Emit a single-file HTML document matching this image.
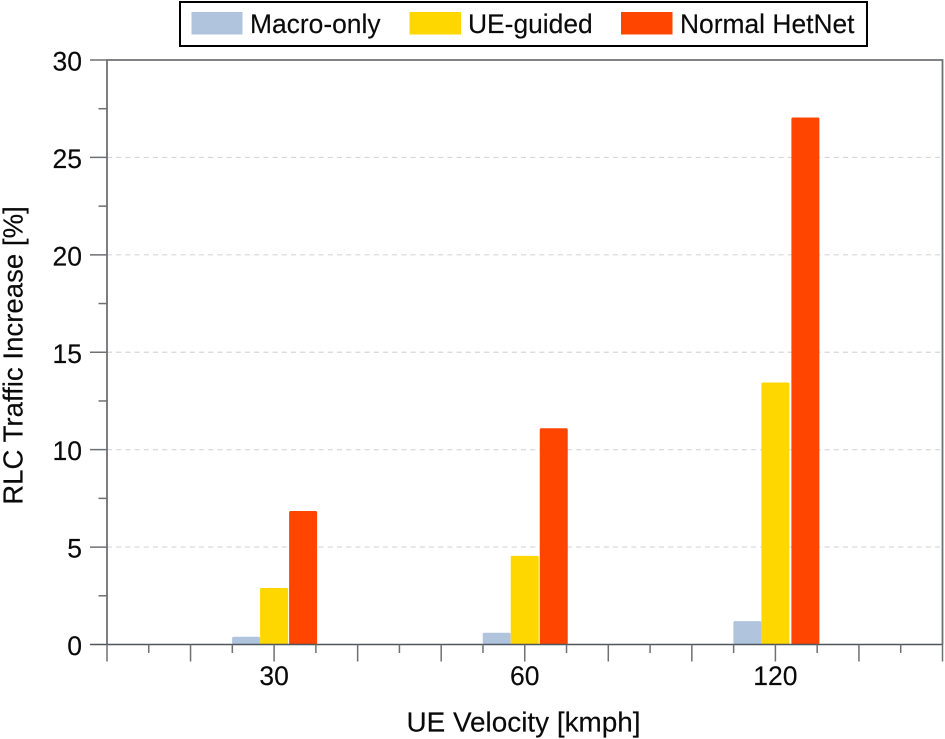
<!DOCTYPE html>
<html lang="en">
<head>
<meta charset="utf-8">
<title>RLC Traffic Increase vs UE Velocity</title>
<style>
html,body{margin:0;padding:0;background:#fff;}
svg{display:block;font-family:"Liberation Sans",Arial,sans-serif;}
text{fill:#0a0a0a;stroke:#0a0a0a;stroke-width:0.15px;}
</style>
</head>
<body>
<svg id="chart" xmlns="http://www.w3.org/2000/svg" width="945" height="739" viewBox="0 0 945 739">
  <rect x="0" y="0" width="945" height="739" fill="#fff"/>
  <g id="grid"></g>
  <g id="bars"></g>
  <g id="axes"></g>
  <text x="523.5" y="731.5" font-size="27.9" text-anchor="middle">UE Velocity [kmph]</text>
  <text transform="translate(22.5,355.5) rotate(-90)" font-size="27.6" text-anchor="middle">RLC Traffic Increase [%]</text>
  <g>
    <rect x="180" y="2" width="687" height="44" fill="#fff" stroke="#000" stroke-width="2"/>
    <rect x="191.5" y="12" width="51" height="22.5" fill="#b0c4de"/>
    <text x="250" y="33" font-size="26.4">Macro-only</text>
    <rect x="409.5" y="12" width="51.5" height="22.5" fill="#ffd700"/>
    <text x="468" y="33" font-size="26.4">UE-guided</text>
    <rect x="621" y="12" width="51.5" height="22.5" fill="#ff4500"/>
    <text x="680" y="33" font-size="26.4">Normal HetNet</text>
  </g>
</svg>
<script>
const categories = ['30', '60', '120'];
const macroOnly = [0.4, 0.6, 1.2];
const ueGuided = [2.9, 4.55, 13.45];
const normalHetNet = [6.85, 11.1, 27.05];
const yTicks = [0, 5, 10, 15, 20, 25, 30];

const NS = 'http://www.w3.org/2000/svg';
const plot = { left: 107, right: 942.5, top: 60, bottom: 644.5 };
const yMax = 30;
const groupStep = (plot.right - plot.left) * 0.3;
const barWidth = 28;
const seriesList = [
  { key: 'macro-only', values: macroOnly, color: '#b0c4de', offset: -1.5, gap: 0 },
  { key: 'ue-guided', values: ueGuided, color: '#ffd700', offset: -0.5, gap: 0 },
  { key: 'normal-hetnet', values: normalHetNet, color: '#ff4500', offset: 0.5, gap: 1 }
];

function yScale(v) {
  return plot.bottom - (v / yMax) * (plot.bottom - plot.top);
}
function xCenter(i) {
  return plot.left + (i + 2 / 3) * groupStep;
}
function shape(parent, tag, attrs) {
  const el = document.createElementNS(NS, tag);
  for (const k in attrs) el.setAttribute(k, attrs[k]);
  parent.appendChild(el);
  return el;
}

const gridG = document.getElementById('grid');
const barsG = document.getElementById('bars');
const axesG = document.getElementById('axes');
const axisColor = '#6e7074';

/* horizontal grid lines */
yTicks.forEach(function (t) {
  if (t === 0 || t === yMax) return;
  const line = shape(gridG, 'line', { x1: plot.left, x2: plot.right, y1: yScale(t), y2: yScale(t), stroke: '#d6d6d6', 'stroke-width': 1.2, 'stroke-dasharray': '5 4.2' });
  
  
});

/* bars */
seriesList.forEach(function (s) {
  s.values.forEach(function (v, i) {
    const bx = xCenter(i) + s.offset * barWidth + s.gap * (i === 2 ? 2 : 1);
    const rect = shape(barsG, 'rect', { x: bx, y: yScale(v), width: barWidth, height: plot.bottom - yScale(v), fill: s.color, rx: 1.5 });
    
    
  });
});

/* axis frame */
const frame = shape(axesG, 'path', {
  d: 'M' + plot.left + ' ' + plot.bottom + 'V' + plot.top + 'H' + plot.right + 'V' + plot.bottom,
  fill: 'none', stroke: axisColor, 'stroke-width': 1.8
});



const baseline = shape(axesG, 'line', { x1: 90, x2: plot.right, y1: plot.bottom, y2: plot.bottom, stroke: '#4f555c', 'stroke-width': 1.5 });



/* y ticks and labels */
yTicks.forEach(function (t, idx) {
  const y = yScale(t);
  if (t !== 0) {
    const major = shape(axesG, 'line', { x1: 90, x2: plot.left, y1: y, y2: y, stroke: axisColor, 'stroke-width': 1.5 });
    
    
  }
  const label = shape(axesG, 'text', { x: 82, y: y + 10.5, 'font-size': 26.5, 'text-anchor': 'end' });
  label.textContent = String(t);
  
  
  if (idx < yTicks.length - 1) {
    const my = yScale((t + yTicks[idx + 1]) / 2);
    const minor = shape(axesG, 'line', { x1: 98.5, x2: plot.left, y1: my, y2: my, stroke: axisColor, 'stroke-width': 1.5 });
    
    
  }
});

/* x ticks: two per major interval on a fine grid of 20 divisions */
const divisions = 20;
for (let d = 0; d <= divisions; d++) {
  const x = plot.left + (plot.right - plot.left) * d / divisions;
  const isMajor = d % 2 === 0;
  const tick = shape(axesG, 'line', { x1: x, x2: x, y1: plot.bottom, y2: plot.bottom + (isMajor ? 17 : 8.5), stroke: axisColor, 'stroke-width': 1.5 });
  
  
}

/* category labels */
categories.forEach(function (c, i) {
  const label = shape(axesG, 'text', { x: xCenter(i), y: 685, 'font-size': 26.5, 'text-anchor': 'middle' });
  label.textContent = c;
  
  
});
</script>
</body>
</html>
